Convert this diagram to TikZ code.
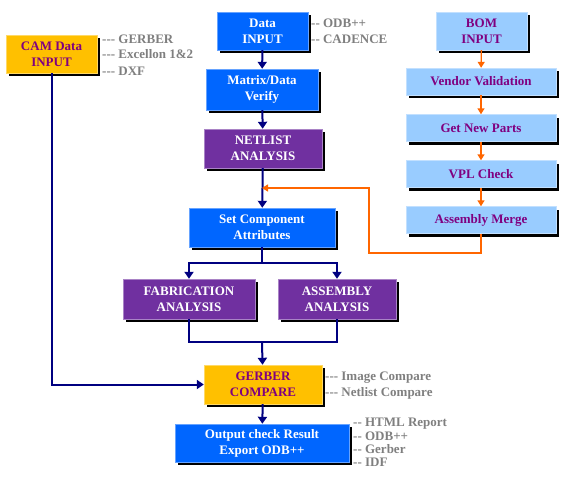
\documentclass[tikz,border=0pt]{standalone}
\usepackage{fontspec}
\setmainfont{Liberation Serif}
\usepackage{tikz}
\usepackage{xcolor}
\usetikzlibrary{arrows.meta,shadows}
\definecolor{BoxBlue}{HTML}{0066FF}
\definecolor{BoxPurple}{HTML}{7030A0}
\definecolor{BoxGold}{HTML}{FFC000}
\definecolor{BoxSky}{HTML}{99CCFF}
\definecolor{TextPurple}{HTML}{800080}
\definecolor{LabelGrey}{HTML}{7F7F7F}
\definecolor{LineNavy}{HTML}{000080}
\definecolor{LineOrange}{HTML}{FF6600}

\begin{document}
\begin{tikzpicture}[x=1pt, y=-1pt,
    box/.style={rectangle, inner sep=0pt, align=center,
        font=\fontsize{13}{16}\selectfont\bfseries,
        drop shadow={shadow xshift=3pt, shadow yshift=-3pt, fill=black, opacity=1}},
    bluebox/.style={box, fill=BoxBlue, draw=BoxBlue!60!white, text=white},
    purplebox/.style={box, fill=BoxPurple, draw=BoxPurple!60!white, text=white},
    goldbox/.style={box, fill=BoxGold, draw=BoxGold!60!white, text=TextPurple},
    skybox/.style={box, fill=BoxSky, draw=BoxSky!60!white, text=TextPurple,
        minimum width=150pt, minimum height=27pt},
    note/.style={anchor=west, inner sep=0pt, text=LabelGrey,
        font=\fontsize{13}{14}\selectfont\bfseries},
    flow/.style={draw=LineNavy, line width=2pt, -{Triangle[length=7pt,width=9pt]}},
    link/.style={draw=LineNavy, line width=2pt},
    feedback/.style={draw=LineOrange, line width=1.4pt, -{Triangle[length=6pt,width=7pt]}}]
    \useasboundingbox (0,0) rectangle (576,480);

    % Left input
    \node[goldbox, minimum width=91pt, minimum height=38pt] (cam) at (51.5,54) {CAM Data\\INPUT};
    \node[note] (camgerber) at (102,39) {-{}-{}- GERBER};
    \node[note] (camexcellon) at (102,54) {-{}-{}- Excellon 1\&2};
    \node[note] (camdxf) at (102,71) {-{}-{}- DXF};

    % Main column
    \node[bluebox, minimum width=91pt, minimum height=38pt] (datain) at (262.5,31) {Data\\INPUT};
    \node[note] (dataodb) at (311,23) {-{}- ODB++};
    \node[note] (datacad) at (311,39) {-{}- CADENCE};

    \node[bluebox, minimum width=112pt, minimum height=41pt] (verify) at (262,89.5) {Matrix/Data\\Verify};
    \node[purplebox, minimum width=118pt, minimum height=39pt] (netlist) at (263,148.5) {NETLIST\\ANALYSIS};
    \node[bluebox, minimum width=146pt, minimum height=39pt] (attrib) at (262,227.5) {Set Component\\Attributes};

    \node[purplebox, minimum width=132pt, minimum height=40pt] (fab) at (189,299) {FABRICATION\\ANALYSIS};
    \node[purplebox, minimum width=118pt, minimum height=40pt] (assy) at (337,299) {ASSEMBLY\\ANALYSIS};

    \node[goldbox, minimum width=118pt, minimum height=39pt] (gerbcmp) at (263,384.5) {GERBER\\COMPARE};
    \node[note] (cmpimage) at (325,378) {-{}-{}- Image Compare};
    \node[note] (cmpnetlist) at (325,393) {-{}-{}- Netlist Compare};

    \node[bluebox, minimum width=174pt, minimum height=38pt] (output) at (262,443) {Output check Result\\Export ODB++};
    \node[note] (outhtml) at (353,424) {-{}- HTML Report};
    \node[note] (outodb) at (353,436.5) {-{}- ODB++};
    \node[note] (outgerber) at (353,449.5) {-{}- Gerber};
    \node[note] (outidf) at (353,462) {-{}- IDF};

    % BOM column
    \node[skybox, minimum width=91pt, minimum height=38pt] (bom) at (481.5,31) {BOM\\INPUT};
    \node[skybox] (vendor) at (481,81.5) {Vendor Validation};
    \node[skybox] (newparts) at (481,128) {Get New Parts};
    \node[skybox] (vpl) at (481,174) {VPL Check};
    \node[skybox] (merge) at (481,220) {Assembly Merge};

    % Helper points
    \coordinate (fb) at (262,188);
    \coordinate (split) at (262,263);
    \coordinate (join) at (262,342);

    % Main flow
    \draw[flow] (datain) -- (verify);
    \draw[flow] (verify) -- (netlist);
    \draw[flow] (netlist) -- (attrib);
    \draw[link] (attrib) -- (split);
    \draw[flow] (split) -| (fab);
    \draw[flow] (split) -| (assy);
    \draw[link] (fab.south) |- (join) -| (assy.south);
    \draw[flow] (join) -- (gerbcmp);
    \draw[flow] (cam) |- (gerbcmp);
    \draw[flow] (gerbcmp) -- (output);

    % BOM flow
    \draw[feedback] (bom) -- (vendor);
    \draw[feedback] (vendor) -- (newparts);
    \draw[feedback] (newparts) -- (vpl);
    \draw[feedback] (vpl) -- (merge);
    \draw[feedback] (merge.south) |- (369,253) |- (fb);

\end{tikzpicture}
\end{document}
